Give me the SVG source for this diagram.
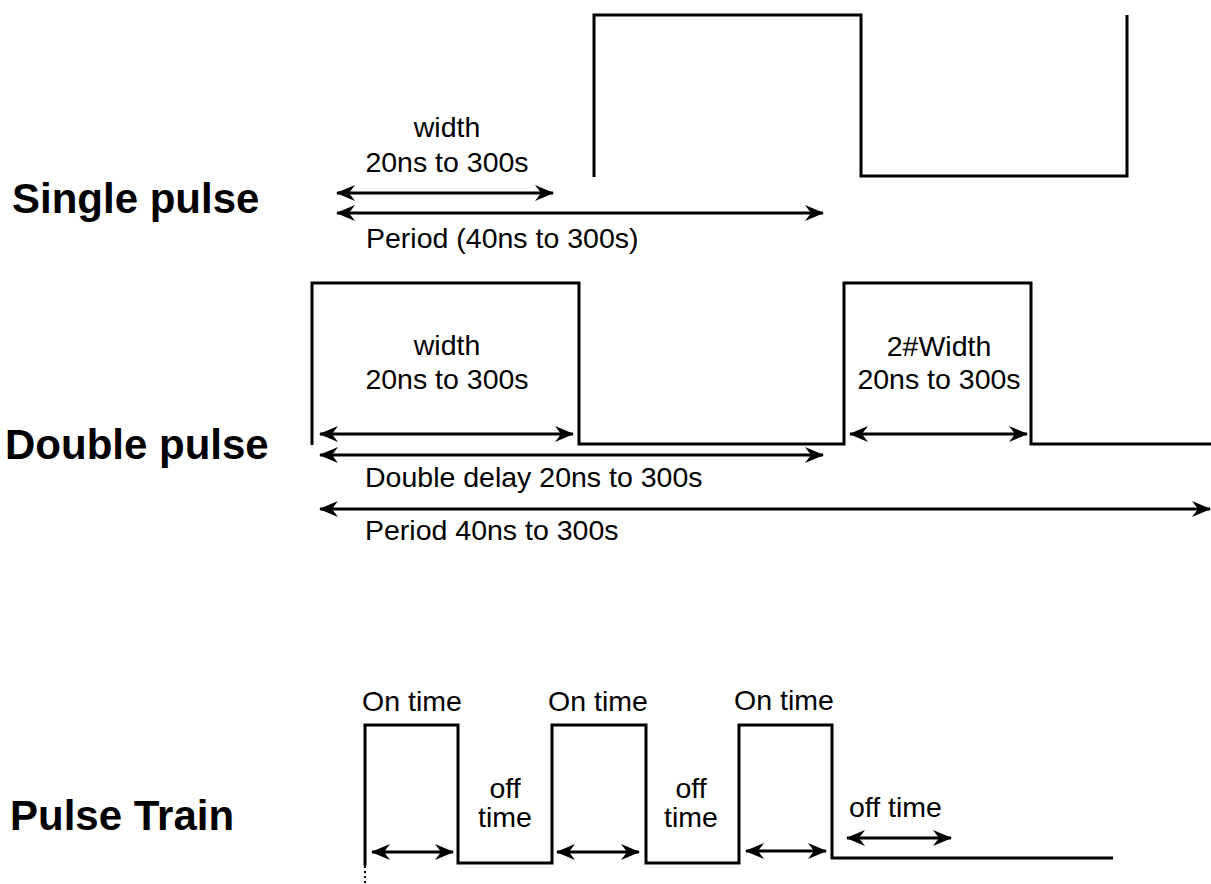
<svg xmlns="http://www.w3.org/2000/svg" width="1211" height="884" viewBox="0 0 1211 884">
<defs>
<marker id="ah" viewBox="0 0 19 16" refX="18" refY="8" markerWidth="19" markerHeight="16" markerUnits="userSpaceOnUse" orient="auto-start-reverse">
<path d="M0,0 L19,8 L0,16 L6,8 Z" fill="#000"/>
</marker>
<style>
.wave{fill:none;stroke:#000;stroke-width:3;stroke-linejoin:miter}
.arr{fill:none;stroke:#000;stroke-width:3;marker-start:url(#ah);marker-end:url(#ah)}
.lbl{font-family:"Liberation Sans",Arial,sans-serif;font-size:28.5px;fill:#000}
.ttl{font-family:"Liberation Sans",Arial,sans-serif;font-size:42px;font-weight:bold;fill:#000}
</style>
</defs>
<rect width="1211" height="884" fill="#fff"/>

<g id="single-pulse">
<text class="ttl" x="12" y="213">Single pulse</text>
<path class="wave" d="M594,177 V15 H861 V176 H1127 V15"/>
<text class="lbl" x="447" y="137" text-anchor="middle">width</text>
<text class="lbl" x="447" y="172" text-anchor="middle">20ns to 300s</text>
<text class="lbl" x="366" y="248">Period (40ns to 300s)</text>
</g>

<g id="double-pulse">
<text class="ttl" x="5" y="459">Double pulse</text>
<path class="wave" d="M312,445 V283 H579 V444 H844 V283 H1031 V444 H1211"/>
<text class="lbl" x="447" y="355" text-anchor="middle">width</text>
<text class="lbl" x="447" y="389" text-anchor="middle">20ns to 300s</text>
<text class="lbl" x="939" y="356" text-anchor="middle">2#Width</text>
<text class="lbl" x="939" y="389" text-anchor="middle">20ns to 300s</text>
<text class="lbl" x="365" y="487">Double delay 20ns to 300s</text>
<text class="lbl" x="365" y="540">Period 40ns to 300s</text>
</g>

<g id="pulse-train">
<text class="ttl" x="10" y="830">Pulse Train</text>
<path class="wave" d="M365,866 V725 H458 V863 H552 V725 H646 V863 H739 V725 H832 V858 H1113"/>
<path d="M365,866 V884" fill="none" stroke="#000" stroke-width="2" stroke-dasharray="2,3"/>
<text class="lbl" x="412" y="711" text-anchor="middle">On time</text>
<text class="lbl" x="598" y="711" text-anchor="middle">On time</text>
<text class="lbl" x="784" y="710" text-anchor="middle">On time</text>
<text class="lbl" x="505" y="798" text-anchor="middle">off</text>
<text class="lbl" x="505" y="827" text-anchor="middle">time</text>
<text class="lbl" x="691" y="798" text-anchor="middle">off</text>
<text class="lbl" x="691" y="827" text-anchor="middle">time</text>
<text class="lbl" x="849" y="817">off time</text>
</g>

<g id="connectors">
<line class="arr" x1="337" y1="193" x2="553" y2="193"/>
<line class="arr" x1="337" y1="213" x2="823" y2="213"/>
<line class="arr" x1="320" y1="434" x2="573" y2="434"/>
<line class="arr" x1="320" y1="455" x2="823" y2="455"/>
<line class="arr" x1="320" y1="509" x2="1210" y2="509"/>
<line class="arr" x1="850" y1="434" x2="1027" y2="434"/>
<line class="arr" x1="372" y1="852" x2="453" y2="852"/>
<line class="arr" x1="557" y1="852" x2="639" y2="852"/>
<line class="arr" x1="746" y1="851" x2="826" y2="851"/>
<line class="arr" x1="847" y1="838" x2="951" y2="838"/>
</g>
</svg>
